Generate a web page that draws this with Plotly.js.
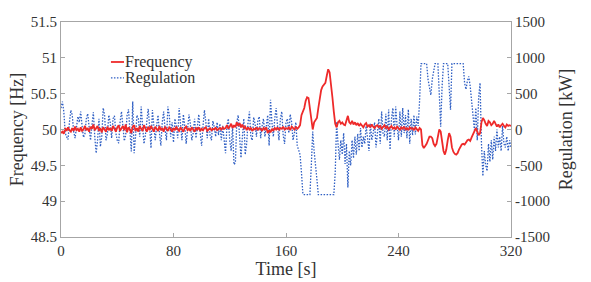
<!DOCTYPE html>
<html><head><meta charset="utf-8">
<script src="https://cdn.plot.ly/plotly-3.0.1.min.js"></script>
<style>html,body{margin:0;padding:0;background:#fff}#chart{width:591px;height:282px}</style>
</head><body><div id="chart"></div>
<script>
// Sample step: 1 s, t = 0..320
const timeStep = 1;
const frequencyHz = [
49.95,49.97,49.94,50.02,49.98,50.03,49.99,49.97,50.02,49.98,
50.04,49.99,50.01,49.97,50.03,49.98,50.00,50.05,49.99,50.02,
49.97,50.04,50.01,50.07,49.99,50.03,50.05,49.98,50.02,49.96,
50.03,50.00,49.97,50.04,49.99,50.02,49.98,50.05,50.00,49.97,
50.03,50.06,49.98,50.02,50.05,49.99,50.07,49.96,50.03,50.00,
49.95,50.04,50.06,49.98,50.02,49.97,50.05,50.01,49.98,50.06,
50.02,49.97,50.04,49.99,50.05,50.00,49.97,50.04,50.01,49.98,
50.05,49.99,50.02,49.97,50.04,50.00,49.98,50.03,50.01,49.97,
50.02,49.99,50.04,50.00,49.98,50.03,50.00,49.97,50.02,50.04,
49.99,50.01,49.98,50.03,50.00,49.97,50.02,50.00,50.03,49.98,
50.01,49.99,50.02,50.03,49.98,50.00,50.02,49.99,50.01,50.00,
50.03,49.99,50.01,50.02,50.00,50.03,50.01,50.02,50.06,50.01,
50.04,50.08,50.02,50.06,50.03,50.10,50.05,50.09,50.03,50.07,
50.02,50.04,49.99,50.03,50.00,50.02,49.98,50.01,50.00,50.03,
49.99,50.02,50.01,49.98,50.02,50.00,50.03,49.95,49.99,49.96,
50.01,49.98,50.02,50.00,50.03,49.99,50.02,50.01,50.04,50.00,
50.02,50.01,50.03,49.99,50.04,50.02,50.00,50.04,50.01,50.03,
50.06,50.20,50.25,50.30,50.40,50.45,50.44,50.30,50.10,50.00,
50.10,50.14,50.16,50.30,50.45,50.55,50.60,50.62,50.65,50.75,
50.84,50.80,50.65,50.45,50.25,50.08,50.03,50.10,50.12,50.08,
50.10,50.07,50.06,50.12,50.19,50.10,50.08,50.12,50.07,50.10,
50.06,50.09,50.05,50.08,50.06,50.03,50.07,50.09,50.04,50.06,
50.03,50.07,50.04,50.02,50.05,50.06,50.03,50.05,50.01,50.04,
50.06,50.02,50.04,50.00,50.03,50.05,50.01,50.03,50.00,50.04,
50.02,49.99,50.03,50.01,50.04,50.00,50.02,49.99,50.03,50.01,
50.02,49.99,50.03,50.00,49.98,50.02,50.00,49.78,49.74,49.77,
49.80,49.85,49.90,49.90,49.88,49.80,49.77,49.80,49.90,50.00,
49.97,49.82,49.70,49.65,49.72,49.85,49.95,49.90,49.75,49.69,
49.66,49.65,49.67,49.72,49.76,49.79,49.80,49.79,49.82,49.85,
49.86,49.84,49.89,49.93,49.97,50.02,49.97,49.92,49.95,50.10,
50.16,50.13,50.08,50.05,50.12,50.10,50.06,50.08,50.12,50.07,
50.04,50.07,50.03,50.06,50.08,50.05,50.03,50.07,50.05,50.06,
50.05];
const regulationKW = [
300,390,250,-50,-100,-140,100,270,200,-30,
-120,50,180,100,250,50,-110,-60,150,220,
50,-150,60,240,-100,-330,-150,150,-240,-100,
300,200,-150,-60,200,100,-120,150,190,-50,
-150,-190,100,250,50,-160,-80,200,280,-50,
-305,390,-330,-100,200,150,-100,320,100,-200,
-80,150,290,50,-260,270,100,-150,50,200,
-50,-225,100,250,0,-150,320,200,-100,100,
-180,150,50,-120,300,100,-150,210,50,-200,
0,210,80,-150,-50,150,-120,100,210,-50,
-225,50,270,100,-120,150,-80,-150,120,30,
-100,100,-80,80,-150,50,-200,-330,50,150,
-150,-300,50,-490,-465,100,200,-200,-395,-100,
150,-350,-200,100,250,-100,-150,170,80,-100,
130,180,-120,50,150,-100,100,200,-225,415,
100,-100,150,300,50,-150,150,250,-80,-200,
100,150,-50,210,100,-150,-50,100,-225,-300,
-350,-600,-900,-910,-910,-910,-910,-910,-500,-30,
-300,-560,-700,-910,-910,-910,-910,-910,-910,-910,
-910,-910,-910,-910,-910,-600,110,-200,-420,-150,
-350,-50,-480,-200,-810,-300,-500,-150,-400,-100,
-350,-60,-300,20,-250,-100,-200,50,-150,-300,
80,-150,-50,100,-250,0,150,-200,250,-50,
-100,220,-150,280,-280,150,300,-100,320,50,
-150,250,-100,300,-50,200,-120,280,-200,150,
-80,200,-70,180,50,400,920,920,920,920,
920,700,600,480,700,850,920,920,920,500,
40,600,920,920,920,920,600,275,920,920,
920,920,920,920,920,920,920,650,560,680,
740,600,400,200,-10,300,-150,450,650,-200,
-650,-300,-500,-580,-200,-450,-150,-420,-100,-300,
0,-250,-100,-300,50,-200,-250,-100,-300,-150,
-250];
const xTicks = [0, 80, 160, 240, 320];
const freqTicks = [48.5, 49, 49.5, 50, 50.5, 51, 51.5];
const regTicks = [-1500, -1000, -500, 0, 500, 1000, 1500];
const regTickText = ['-1500', '-1000', '-500', '0', '500', '1000', '1500'];
const seriesNames = ['Frequency', 'Regulation'];

const timeS = frequencyHz.map((_, i) => i * timeStep);

const font = '"Times New Roman", "Liberation Serif", serif';
const axisGrey = '#a6a6a6';
const textCol = '#333333';
const redCol = '#ee2a2a';
const blueCol = '#2f5fc4';
const blueDash = '1.5px,1.5px';

const traces = [
  { x: timeS, y: frequencyHz, name: seriesNames[0], type: 'scatter', mode: 'lines',
    yaxis: 'y2', line: { color: redCol, width: 1.8 } },
  { x: timeS, y: regulationKW, name: seriesNames[1], type: 'scatter', mode: 'lines',
    yaxis: 'y', line: { color: blueCol, width: 1.3, dash: blueDash } }
];

// custom compact legend (paper coordinates)
const legX0 = 0.111, legX1 = 0.14, legTextX = 0.138;
const legY = [0.814, 0.74];
const shapes = [
  { type: 'line', xref: 'paper', yref: 'paper', x0: legX0, x1: legX1, y0: legY[0], y1: legY[0],
    line: { color: redCol, width: 1.8 } },
  { type: 'line', xref: 'paper', yref: 'paper', x0: legX0, x1: legX1, y0: legY[1], y1: legY[1],
    line: { color: blueCol, width: 1.3, dash: blueDash } }
];
const annotations = seriesNames.map((n, i) => ({
  text: n, xref: 'paper', yref: 'paper', x: legTextX, y: legY[i], xanchor: 'left', yanchor: 'middle',
  showarrow: false, font: { family: font, size: 16, color: textCol }
}));

const layout = {
  width: 591, height: 282,
  margin: { l: 61, r: 80, t: 22, b: 45 },
  paper_bgcolor: '#ffffff', plot_bgcolor: '#ffffff',
  font: { family: font, size: 15, color: textCol },
  showlegend: false,
  shapes: shapes, annotations: annotations,
  xaxis: { range: [0, 320], tickvals: xTicks, ticks: 'inside', ticklen: 4, tickcolor: axisGrey,
           showline: true, linecolor: axisGrey, linewidth: 1, mirror: true, showgrid: false, zeroline: false,
           title: { text: 'Time [s]', font: { family: font, size: 18, color: textCol }, standoff: 4 },
           tickfont: { family: font, size: 15, color: textCol } },
  yaxis: { range: [-1500, 1500], side: 'right', tickvals: regTicks, ticktext: regTickText,
           ticks: 'inside', ticklen: 4, tickcolor: axisGrey, showline: true, linecolor: axisGrey,
           showgrid: false, zeroline: false,
           title: { text: 'Regulation [kW]', font: { family: font, size: 18, color: textCol }, standoff: 10 },
           tickfont: { family: font, size: 15, color: textCol } },
  yaxis2: { range: [48.5, 51.5], side: 'left', overlaying: 'y', tickvals: freqTicks,
            ticks: 'inside', ticklen: 4, tickcolor: axisGrey, showline: true, linecolor: axisGrey,
            showgrid: false, zeroline: false,
            title: { text: 'Frequency [Hz]', font: { family: font, size: 18, color: textCol }, standoff: 2 },
            tickfont: { family: font, size: 15, color: textCol } }
};

Plotly.newPlot('chart', traces, layout, { displayModeBar: false, staticPlot: true });
</script>
</body></html>
